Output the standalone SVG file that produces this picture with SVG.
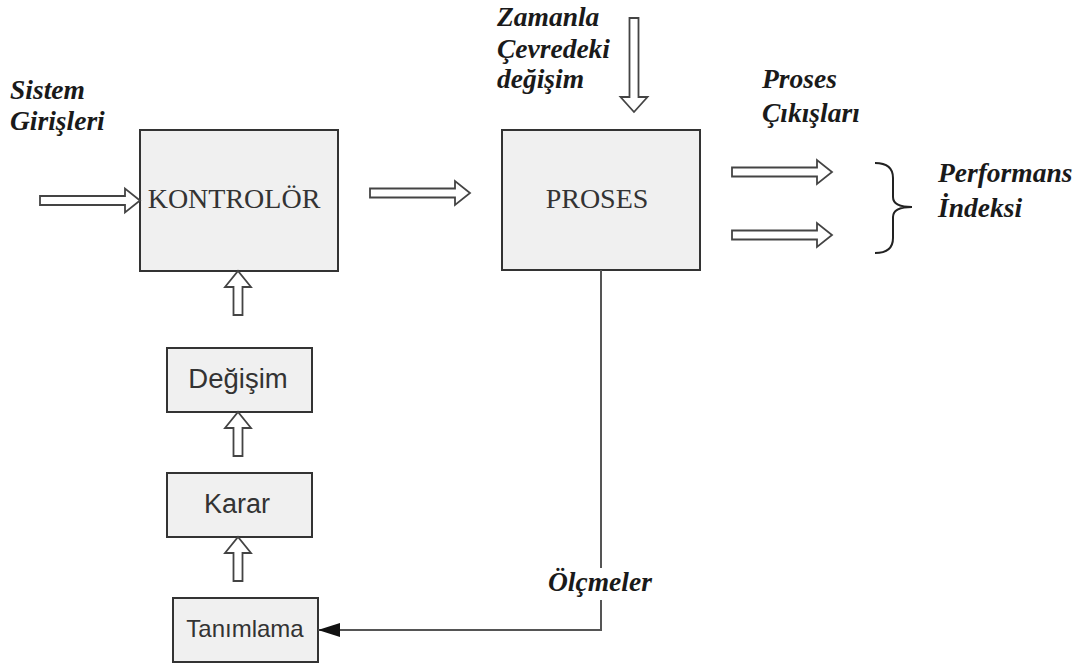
<svg xmlns="http://www.w3.org/2000/svg" xmlns:xlink="http://www.w3.org/1999/xlink" width="1089" height="664" viewBox="0 0 1089 664">
  <style>
    .box { fill: #f0f0f0; stroke: #333; stroke-width: 2; }
    .blk { fill: #fff; stroke: #444; stroke-width: 1.8; stroke-linejoin: miter; }
    .serif { font-family: "Liberation Serif", "Times New Roman", serif; fill: #333; }
    .sans { font-family: "Liberation Sans", Arial, sans-serif; fill: #333; }
    .lbl { font-family: "Liberation Serif", "Times New Roman", serif; font-weight: bold; font-style: italic; font-size: 27.5px; fill: #1a1a1a; }
    .line { fill: none; stroke: #555; stroke-width: 2; }
  </style>
  <defs>
    <!-- hollow block arrow, pointing right, length 100 -->
    <path id="arrowRight" d="M0,-4.5 L85,-4.5 L85,-12 L100,0 L85,12 L85,4.5 L0,4.5 Z"/>
    <!-- hollow block arrow, pointing up, length 44 -->
    <path id="arrowUp" d="M-4.5,44 L-4.5,16 L-13,16 L0,0 L13,16 L4.5,16 L4.5,44 Z"/>
    <marker id="solidHead" viewBox="0 0 10 10" refX="10" refY="5" markerWidth="22" markerHeight="14" markerUnits="userSpaceOnUse" orient="auto" preserveAspectRatio="none">
      <path d="M0,0 L10,5 L0,10 Z" fill="#111"/>
    </marker>
  </defs>

  <rect width="1089" height="664" fill="#fff"/>

  <!-- free labels -->
  <text class="lbl" x="10" y="99">Sistem</text>
  <text class="lbl" x="10" y="130">Girişleri</text>
  <text class="lbl" x="497" y="26">Zamanla</text>
  <text class="lbl" x="497" y="58">Çevredeki</text>
  <text class="lbl" x="497" y="88">değişim</text>
  <text class="lbl" x="762" y="88">Proses</text>
  <text class="lbl" x="762" y="122">Çıkışları</text>
  <text class="lbl" x="938" y="182">Performans</text>
  <text class="lbl" x="938" y="217">İndeksi</text>

  <!-- nodes -->
  <g id="kontrolor">
    <rect class="box" x="140" y="130" width="198" height="141"/>
    <text class="serif" x="234" y="208" font-size="28" text-anchor="middle">KONTROLÖR</text>
  </g>
  <g id="proses">
    <rect class="box" x="502" y="130" width="198" height="140"/>
    <text class="serif" x="597" y="208" font-size="28" text-anchor="middle">PROSES</text>
  </g>
  <g id="degisim">
    <rect class="box" x="167" y="348" width="145" height="64"/>
    <text class="sans" x="238" y="388" font-size="27.5" text-anchor="middle">Değişim</text>
  </g>
  <g id="karar">
    <rect class="box" x="167" y="473" width="145" height="64"/>
    <text class="sans" x="237" y="513" font-size="27" text-anchor="middle">Karar</text>
  </g>
  <g id="tanimlama">
    <rect class="box" x="173" y="598" width="145" height="64"/>
    <text class="sans" x="245" y="637" font-size="24" text-anchor="middle">Tanımlama</text>
  </g>

  <!-- connectors -->
  <g id="connectors">
    <use xlink:href="#arrowRight" class="blk" transform="translate(40,200.5)"/>
    <use xlink:href="#arrowRight" class="blk" transform="translate(370,193)"/>
    <use xlink:href="#arrowRight" class="blk" transform="translate(732,172)"/>
    <use xlink:href="#arrowRight" class="blk" transform="translate(732,235)"/>
    <path class="blk" d="M629.5,18 L638.5,18 L638.5,97 L647.5,97 L634,112 L620.5,97 L629.5,97 Z"/>
    <use xlink:href="#arrowUp" class="blk" transform="translate(238,271)"/>
    <use xlink:href="#arrowUp" class="blk" transform="translate(238,412)"/>
    <use xlink:href="#arrowUp" class="blk" transform="translate(238,537)"/>
    <!-- brace grouping the outputs -->
    <path d="M875,163 Q893,163 893,178 L893,197 Q893,207 912,207 Q893,207 893,217 L893,238 Q893,253 875,253" fill="none" stroke="#222" stroke-width="2"/>
    <!-- measurement feedback -->
    <path class="line" d="M601,270 L601,568"/>
    <path class="line" d="M601,600 L601,630 L318,630" marker-end="url(#solidHead)"/>
  </g>
  <text class="lbl" x="548" y="591">Ölçmeler</text>
</svg>
